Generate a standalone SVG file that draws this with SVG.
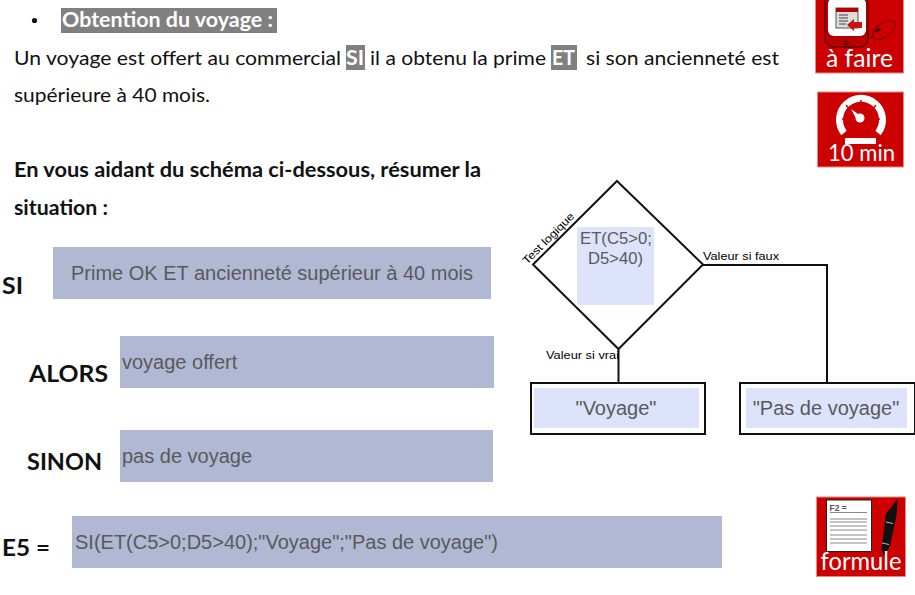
<svg xmlns="http://www.w3.org/2000/svg" width="915" height="595" viewBox="0 0 915 595">
<style>
.t{font-family:"Lato","Noto Sans",sans-serif;font-size:20px;fill:#111}
.b{font-weight:700}
.h{fill:#808080}
.w{fill:#fff;font-weight:700}
.g{fill:#b0b8d4}
.lb{fill:#dce3fb}
.a{font-family:"Liberation Sans",Arial,sans-serif;font-size:20px;fill:#5a5a5a}
.s{font-family:"Liberation Sans",Arial,sans-serif;font-size:11px;fill:#000}
.k{font-family:"Lato","Noto Sans",sans-serif;font-size:23px;font-weight:700;fill:#111}
.ln{fill:none;stroke:#111;stroke-width:2}
.ic{fill:#cc0000;stroke:#e88;stroke-width:1}
.it{font-family:"Lato","Noto Sans",sans-serif;fill:#fff}
</style>
<g id="texte">
<circle cx="34.500" cy="20.500" r="2.600" fill="#111"/>
<rect class="h" x="61" y="8" width="216" height="25"/>
<text class="t w" x="62" y="27" textLength="211" lengthAdjust="spacingAndGlyphs">Obtention du voyage :</text>
<text class="t" x="14" y="65" textLength="327" lengthAdjust="spacingAndGlyphs">Un voyage est offert au commercial</text>
<rect class="h" x="346" y="45" width="19" height="25"/>
<text class="t w" x="346" y="65" textLength="18" lengthAdjust="spacingAndGlyphs">SI</text>
<text class="t" x="370" y="65" textLength="176" lengthAdjust="spacingAndGlyphs">il a obtenu la prime</text>
<rect class="h" x="551" y="45" width="26" height="25"/>
<text class="t w" x="552" y="65" textLength="23" lengthAdjust="spacingAndGlyphs">ET</text>
<text class="t" x="586" y="65" textLength="193" lengthAdjust="spacingAndGlyphs">si son ancienneté est</text>
<text class="t" x="14" y="102" textLength="196" lengthAdjust="spacingAndGlyphs">supérieure à 40 mois.</text>
<text class="t b" x="14" y="177" textLength="467" lengthAdjust="spacingAndGlyphs">En vous aidant du schéma ci-dessous, résumer la</text>
<text class="t b" x="14" y="215" textLength="94" lengthAdjust="spacingAndGlyphs">situation :</text>
</g>
<g id="si">
<text class="k" x="2" y="294" textLength="21" lengthAdjust="spacingAndGlyphs">SI</text>
<rect class="g" x="53" y="247" width="438" height="52"/>
<text class="a" x="71" y="280" textLength="402" lengthAdjust="spacingAndGlyphs">Prime OK ET ancienneté supérieur à 40 mois</text>
</g>
<g id="alors">
<text class="k" x="29" y="382" textLength="79" lengthAdjust="spacingAndGlyphs">ALORS</text>
<rect class="g" x="120" y="336" width="374" height="52"/>
<text class="a" x="122" y="369">voyage offert</text>
</g>
<g id="sinon">
<text class="k" x="27" y="470" textLength="75" lengthAdjust="spacingAndGlyphs">SINON</text>
<rect class="g" x="120" y="430" width="373" height="52"/>
<text class="a" x="122" y="463">pas de voyage</text>
</g>
<g id="e5">
<text class="k" x="2" y="556" textLength="48" lengthAdjust="spacingAndGlyphs">E5 =</text>
<rect class="g" x="72" y="516" width="650" height="52"/>
<text class="a" x="75" y="549" textLength="423" lengthAdjust="spacingAndGlyphs">SI(ET(C5&gt;0;D5&gt;40);"Voyage";"Pas de voyage")</text>
</g>
<g id="connecteurs">
<path class="ln" d="M703 265H827V383"/>
<path class="ln" d="M618.500 349V383"/>
</g>
<g id="test">
<path class="ln" d="M617 181L703 264.500L618.500 349L533 264.500Z" fill="#fff"/>
<rect class="lb" x="577" y="227" width="77" height="78"/>
<text class="a" x="580" y="244" style="font-size:17px" textLength="72" lengthAdjust="spacingAndGlyphs">ET(C5&gt;0;</text>
<text class="a" x="588" y="264" style="font-size:17px" textLength="55" lengthAdjust="spacingAndGlyphs">D5&gt;40)</text>
<text class="s" x="0" y="0" transform="translate(527 265) rotate(-45)" textLength="68" lengthAdjust="spacingAndGlyphs">Test logique</text>
<text class="s" x="703" y="260" textLength="76" lengthAdjust="spacingAndGlyphs">Valeur si faux</text>
<text class="s" x="546" y="359" textLength="73" lengthAdjust="spacingAndGlyphs">Valeur si vrai</text>
</g>
<g id="voyage">
<rect class="ln" x="531" y="383" width="174" height="51"/>
<rect class="lb" x="534" y="388" width="165" height="40"/>
<text class="a" x="616" y="415" text-anchor="middle">"Voyage"</text>
</g>
<g id="pas-de-voyage">
<rect class="ln" x="740" y="383" width="175" height="51"/>
<rect class="lb" x="746" y="388" width="161" height="40"/>
<text class="a" x="826" y="415" text-anchor="middle">"Pas de voyage"</text>
</g>
<g id="icone-a-faire">
<rect class="ic" x="815.500" y="-2" width="88" height="75"/>
<rect x="825" y="-6" width="43" height="53" rx="8" fill="#b80000" stroke="#300" stroke-width="1"/>
<rect x="828" y="-2" width="38" height="38" rx="6" fill="#fff"/>
<rect x="836" y="8" width="22" height="20" fill="#ddd" stroke="#555" stroke-width="1"/>
<rect x="836" y="8" width="22" height="4" fill="#b00"/>
<path d="M839 15h9M839 18h9M839 21h9M839 24h7" stroke="#444" stroke-width="1.200"/>
<path d="M847 25l7-6v3h8v6h-8v3z" fill="#cc1111"/>
<circle cx="846.500" cy="43" r="1.800" fill="none" stroke="#200" stroke-width="1"/>
<ellipse cx="884" cy="30" rx="13" ry="7" transform="rotate(-35 884 30)" fill="none" stroke="#700" stroke-width="1"/>
<ellipse cx="878" cy="30" rx="3" ry="1.500" transform="rotate(-35 878 30)" fill="#400"/>
<path d="M868 38Q871 38 874 35" fill="none" stroke="#500" stroke-width="1"/>
<text class="it" x="826" y="67" style="font-size:25px" textLength="67" lengthAdjust="spacingAndGlyphs">à faire</text>
</g>
<g id="icone-10-min">
<rect class="ic" x="817.500" y="92" width="86" height="75"/>
<path d="M844 133A21.500 21.500 0 1 1 878 133" fill="none" stroke="#fff" stroke-width="7"/>
<path d="M861 100v5M846 105l3 3.500M876 105l-3 3.500M842 119h5M880 119h-5M846 130l3-2M876 130l-3-2" stroke="#cc0000" stroke-width="1.500"/>
<path d="M851 109L858 114L864 120L858 122Z" fill="#fff"/>
<circle cx="860" cy="118" r="4.500" fill="#fff"/>
<rect x="845" y="138" width="31" height="6" fill="#fff"/>
<text class="it" x="828" y="161" style="font-size:24px" textLength="67" lengthAdjust="spacingAndGlyphs">10 min</text>
</g>
<g id="icone-formule">
<rect class="ic" x="816.500" y="497" width="89" height="79.500"/>
<rect x="826.500" y="500" width="45" height="51.500" fill="#fff" stroke="#222" stroke-width="1"/>
<text x="829.500" y="511" style="font-family:'Liberation Sans',sans-serif;font-size:8.500px;font-weight:700;fill:#555">F2 =</text>
<path d="M830 512.500h37M830 519h37M830 522h37M830 526h37M830 530h37M830 535h37M830 539h37M830 543h37" stroke="#888" stroke-width="1"/>
<path d="M897.500 499L897 513L890 546L884 556L881.500 549L886 514Z" fill="#111"/>
<path d="M886 522l7 1.500M882 543l7 1.500" stroke="#bbb" stroke-width="1"/>
<text class="it" x="820.500" y="570" style="font-size:25px" textLength="81" lengthAdjust="spacingAndGlyphs">formule</text>
</g>
</svg>
